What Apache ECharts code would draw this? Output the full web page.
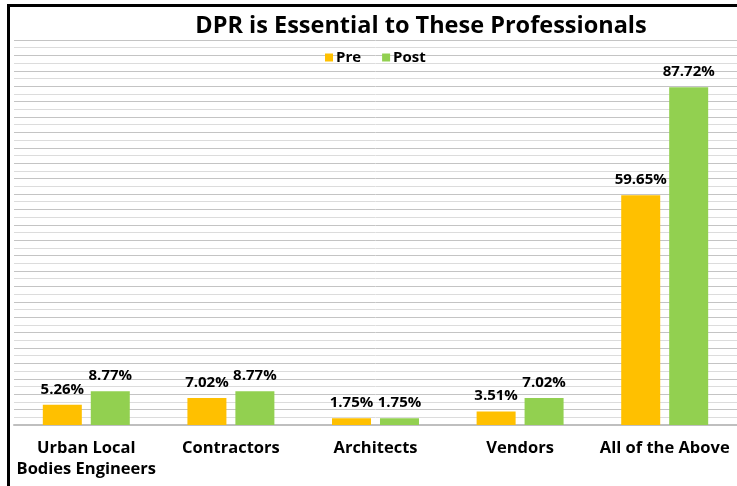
<!DOCTYPE html>
<html>
<head>
<meta charset="utf-8">
<script src="https://cdn.jsdelivr.net/npm/echarts@6/dist/echarts.min.js"></script>
<style>
  body { margin: 0; background: #fff; }
  #wrap { position: relative; width: 737px; height: 486px; }
  #chart { width: 737px; height: 486px; }
  #frame { position: absolute; left: 7px; top: 4px; right: 0; bottom: 0;
           border-left: 3px solid #000; border-top: 3px solid #000; pointer-events: none; }
</style>
</head>
<body>
<div id="wrap">
  <div id="chart"></div>
  <div id="frame"></div>
</div>
<script>
const categories = ['Urban Local\nBodies Engineers', 'Contractors', 'Architects', 'Vendors', 'All of the Above'];
const preValues = [5.26, 7.02, 1.75, 3.51, 59.65];
const postValues = [8.77, 8.77, 1.75, 7.02, 87.72];

const chart = echarts.init(document.getElementById('chart'));
const font = 'Open Sans';

chart.setOption({
    animation: false,
    title: {
        text: 'DPR is Essential to These Professionals',
        left: 416,
        textAlign: 'center',
        top: 9,
        textStyle: { fontFamily: font, fontSize: 23.5, fontWeight: 'bold', color: '#000' }
    },
    legend: {
        data: ['Pre', 'Post'],
        left: 320,
        top: 45,
        icon: 'rect',
        itemWidth: 8,
        itemHeight: 8,
        itemGap: 21,
        textStyle: { fontFamily: font, fontSize: 15, fontWeight: 'bold', color: '#000', padding: [0, 0, 0, -2] }
    },
    grid: { left: 14, right: -2, top: 40, bottom: 61 },
    xAxis: {
        type: 'category',
        data: categories,
        axisTick: { show: false },
        axisLine: { lineStyle: { color: '#bfbfbf', width: 2 } },
        axisLabel: {
            fontFamily: font, fontSize: 16.5, fontWeight: 'bold', color: '#000',
            margin: 13, lineHeight: 21, interval: 0
        }
    },
    yAxis: {
        type: 'value',
        min: 0,
        max: 100,
        interval: 2,
        axisLabel: { show: false },
        axisLine: { show: false },
        axisTick: { show: false },
        splitLine: { lineStyle: { color: ['#c4c4c4', '#dcdcdc'], width: 1 } }
    },
    series: [
        {
            name: 'Pre',
            type: 'bar',
            data: preValues,
            barWidth: 39,
            barGap: '23%',
            itemStyle: { color: '#FFC000' },
            label: {
                show: true, position: 'top', distance: 8,
                formatter: p => p.value.toFixed(2) + '%',
                fontFamily: font, fontSize: 15, fontWeight: 'bold', color: '#000'
            }
        },
        {
            name: 'Post',
            type: 'bar',
            data: postValues,
            barWidth: 39,
            itemStyle: { color: '#92D050' },
            label: {
                show: true, position: 'top', distance: 8,
                formatter: p => p.value.toFixed(2) + '%',
                fontFamily: font, fontSize: 15, fontWeight: 'bold', color: '#000'
            }
        }
    ]
});
</script>
</body>
</html>
